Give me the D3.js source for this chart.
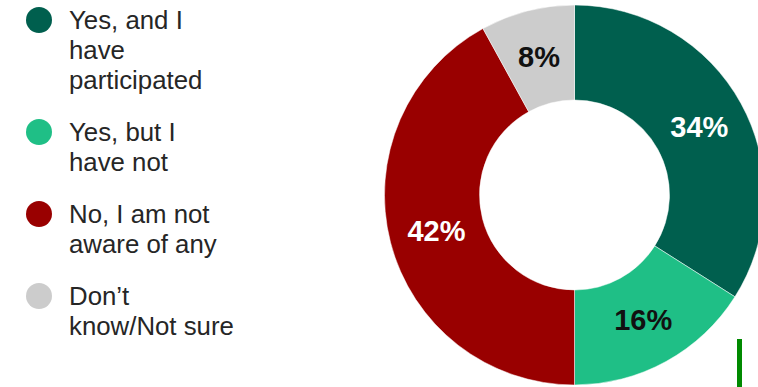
<!DOCTYPE html>
<html>
<head>
<meta charset="utf-8">
<script src="https://cdn.jsdelivr.net/npm/d3@7"></script>
<style>
  body { margin: 0; background: #fff; }
  svg { display: block; }
</style>
</head>
<body>
<div id="viz"></div>
<script>
var width = 758,
  height = 387;

// chart data
var categories = ['Yes, and I have participated', 'Yes, but I have not', 'No, I am not aware of any', 'Don\u2019t know/Not sure'];
var legendLines = [['Yes, and I', 'have', 'participated'], ['Yes, but I', 'have not'], ['No, I am not', 'aware of any'], ['Don\u2019t', 'know/Not sure']];
var values = [34, 16, 42, 8];
var colors = ['#005f4e', '#1fbf86', '#990000', '#cccccc'];
var labelColors = ['#ffffff', '#111111', '#ffffff', '#111111'];

var svg = d3.select('#viz').append('svg')
  .attr('width', width)
  .attr('height', height);

var cx = 574.5,
  cy = 195,
  outerR = 190,
  innerR = 95;

var pie = d3.pie().sort(null).value(function (d) { return d; });
var arc = d3.arc().innerRadius(innerR).outerRadius(outerR);

var g = svg.append('g').attr('transform', 'translate(' + cx + ',' + cy + ')');

var arcs = pie(values);

g.selectAll('path')
  .data(arcs)
  .enter().append('path')
  .attr('d', arc)
  .attr('fill', function (d, i) { return colors[i]; })
  .attr('stroke', '#ffffff')
  .attr('stroke-width', 0.5);

g.selectAll('text.lbl')
  .data(arcs)
  .enter().append('text')
  .attr('class', 'lbl')
  .attr('transform', function (d) {
    var c = arc.centroid(d);
    return 'translate(' + c[0] + ',' + c[1] + ')';
  })
  .attr('text-anchor', 'middle')
  .attr('dy', '0.36em')
  .attr('font-family', 'Liberation Sans, Arial, sans-serif')
  .attr('font-weight', 'bold')
  .attr('font-size', 29)
  .attr('fill', function (d, i) { return labelColors[i]; })
  .text(function (d) { return d.data + '%'; });

// legend: entries stacked by their number of lines
var lineH = 30,
  gap = 22;
var legendTop = [];
var acc = 20;
legendLines.forEach(function (l) {
  legendTop.push(acc);
  acc += l.length * lineH + gap;
});

var legend = svg.selectAll('g.legend')
  .data(categories)
  .enter().append('g')
  .attr('class', 'legend')
  .attr('transform', function (d, i) { return 'translate(0,' + legendTop[i] + ')'; });

legend.append('circle')
  .attr('cx', 39)
  .attr('cy', 0)
  .attr('r', 13)
  .attr('fill', function (d, i) { return colors[i]; });

legend.append('text')
  .attr('x', 69)
  .attr('y', 9)
  .attr('font-family', 'Liberation Sans, Arial, sans-serif')
  .attr('font-size', 25.8)
  .attr('fill', '#262626')
  .selectAll('tspan')
  .data(function (d, i) { return legendLines[i]; })
  .enter().append('tspan')
  .attr('x', 69)
  .attr('dy', function (d, i) { return i === 0 ? 0 : lineH; })
  .text(function (d) { return d; });

// stray green bar at lower right
svg.append('rect')
  .attr('x', 737)
  .attr('y', 339)
  .attr('width', 5)
  .attr('height', 48)
  .attr('fill', '#008a00');
</script>
</body>
</html>
